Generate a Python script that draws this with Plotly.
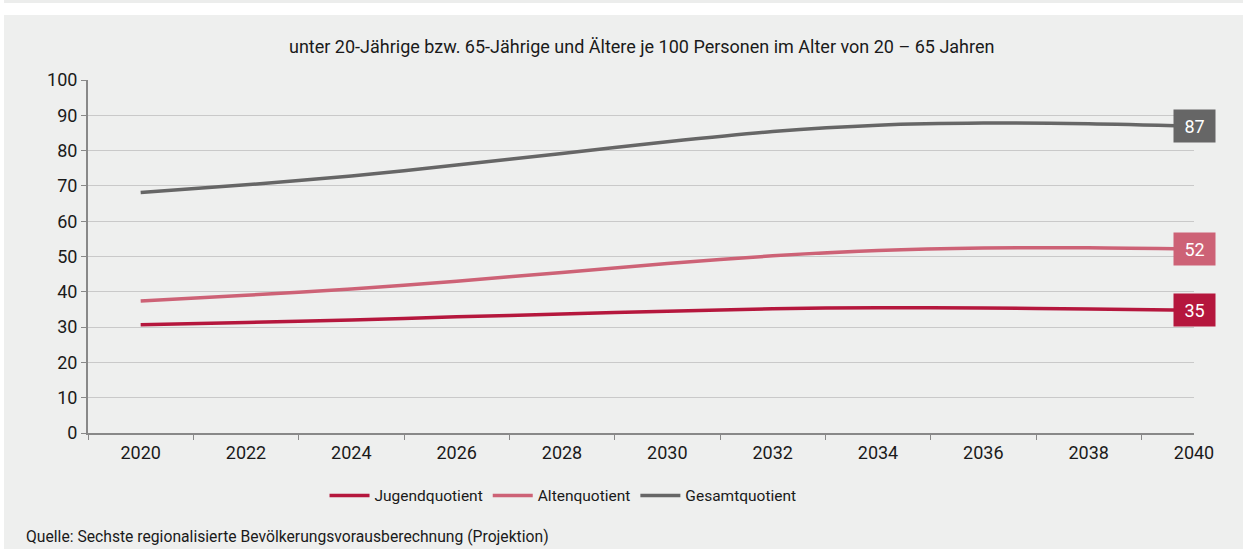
import plotly.graph_objects as go

years = [2020, 2022, 2024, 2026, 2028, 2030, 2032, 2034, 2036, 2038, 2040]
jugend = [30.7, 31.3, 32.0, 32.9, 33.7, 34.5, 35.2, 35.5, 35.4, 35.1, 34.8]
alten = [37.4, 39.0, 40.8, 43.0, 45.5, 48.0, 50.2, 51.7, 52.4, 52.5, 52.1]
gesamt = [68.1, 70.3, 72.8, 75.9, 79.2, 82.5, 85.4, 87.2, 87.8, 87.6, 86.9]
end_labels = ["35", "52", "87"]

series_names = ["Jugendquotient", "Altenquotient", "Gesamtquotient"]
series_vals = [jugend, alten, gesamt]
colors = ["#B5173D", "#CD6276", "#666666"]

title_text = "unter 20-Jährige bzw. 65-Jährige und Ältere je 100 Personen im Alter von 20 – 65 Jahren"
source_text = "Quelle: Sechste regionalisierte Bevölkerungsvorausberechnung (Projektion)"

FONT = "Roboto"
fig = go.Figure()
for name, vals, col in zip(series_names, series_vals, colors):
    fig.add_trace(go.Scatter(
        x=years, y=vals, name=name, mode="lines",
        line=dict(color=col, width=3.5, shape="spline", smoothing=0.8),
        hoverinfo="x+y+name",
    ))

annotations = []
for vals, col, lab in zip(series_vals, colors, end_labels):
    annotations.append(dict(
        x=years[-1], y=vals[-1], xref="x", yref="y", text=lab, showarrow=False,
        bgcolor=col, font=dict(family=FONT, size=18, color="white"),
        width=39, height=30, align="center", valign="middle",
        xanchor="center", yanchor="middle",
    ))
annotations.append(dict(
    x=0.5, y=1.0963, xref="paper", yref="paper", text=title_text, showarrow=False,
    font=dict(family=FONT, size=18, color="#1a1a1a"), xanchor="center", yanchor="middle",
))
annotations.append(dict(
    x=-0.0579, y=-0.2946, xref="paper", yref="paper", text=source_text, showarrow=False,
    font=dict(family=FONT, size=15.7, color="#1a1a1a"), xanchor="left", yanchor="middle",
))

shapes = [
    dict(type="rect", xref="paper", yref="paper", x0=-0.2, x1=1.2, y0=1.184, y1=1.3,
         fillcolor="white", line=dict(width=0), layer="below"),
    dict(type="rect", xref="paper", yref="paper", x0=-0.2, x1=1.2, y0=1.2181, y1=1.3,
         fillcolor="#ECEDEC", line=dict(width=0), layer="below"),
    dict(type="rect", xref="paper", yref="paper", x0=-0.2, x1=-0.0759, y0=-0.5, y1=1.3,
         fillcolor="white", line=dict(width=0), layer="below"),
]

fig.update_layout(
    width=1243, height=549,
    margin=dict(l=88, r=49, t=80, b=116, autoexpand=False),
    paper_bgcolor="#EEEFEE", plot_bgcolor="#EEEFEE",
    font=dict(family=FONT, color="#1a1a1a"),
    showlegend=True,
    legend=dict(orientation="h", x=0.4295, y=-0.178, xanchor="center", yanchor="middle",
                font=dict(family=FONT, size=15.5, color="#1a1a1a"), bgcolor="rgba(0,0,0,0)",
                itemwidth=40),
    annotations=annotations,
    shapes=shapes,
)
fig.update_xaxes(
    range=[2019, 2040], tickvals=years, ticktext=[str(y) for y in years],
    ticks="", showgrid=False, zeroline=False,
    showline=True, linecolor="#888888", linewidth=2,
    tickfont=dict(family=FONT, size=18, color="#1a1a1a"),
    ticklabelstandoff=2,
    minor=dict(tickvals=[2019 + 2 * i for i in range(11)], ticks="outside",
               ticklen=5, tickcolor="#888888", tickwidth=1, showgrid=False),
)
fig.update_yaxes(
    range=[0, 100], tickvals=list(range(0, 101, 10)), showgrid=True,
    gridcolor="#C9C9C9", gridwidth=1, zeroline=False,
    showline=True, linecolor="#888888", linewidth=2,
    ticks="outside", ticklen=5, tickcolor="#888888",
    tickfont=dict(family=FONT, size=18, color="#1a1a1a"),
)

fig.write_html(
    "out.html",
    config={"displayModeBar": False},
    post_script="document.body.style.margin='0';document.body.style.overflow='hidden';",
)
